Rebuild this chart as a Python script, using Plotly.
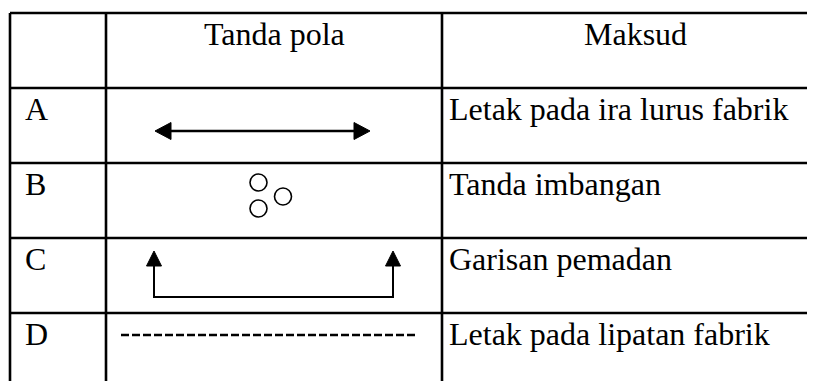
import plotly.graph_objects as go

# table content
headers = ["", "Tanda pola", "Maksud"]
row_labels = ["A", "B", "C", "D"]
meanings = [
    "Letak pada ira lurus fabrik",
    "Tanda imbangan",
    "Garisan pemadan",
    "Letak pada lipatan fabrik",
]

W, H = 815, 381
OFF = 8  # page body margin, compensated in axis ranges
col_x = [10, 106, 442]          # vertical rules
row_y = [13, 88, 163, 238, 313]  # horizontal rules
FONT = "Liberation Serif"
FS = 32

fig = go.Figure()
shapes = []
annots = []

# grid lines
for y in row_y:
    shapes.append(dict(type="line", x0=col_x[0], x1=W + OFF, y0=y, y1=y,
                       line=dict(color="black", width=2.6)))
for x in col_x:
    shapes.append(dict(type="line", x0=x, x1=x, y0=row_y[0], y1=H + OFF,
                       line=dict(color="black", width=2.6)))

# header text
annots.append(dict(x=(col_x[1] + col_x[2]) / 2, y=row_y[0] + 21, text=headers[1]))
annots.append(dict(x=635, y=row_y[0] + 21, text=headers[2]))

# row labels + meanings
for i, (lab, txt) in enumerate(zip(row_labels, meanings)):
    top = row_y[i + 1]
    annots.append(dict(x=23, y=top + 21, text=lab, xanchor="left"))
    annots.append(dict(x=447, y=top + 21, text=txt, xanchor="left"))

for a in annots:
    a.update(xref="x", yref="y", showarrow=False, yanchor="middle",
             font=dict(family=FONT, size=FS, color="black"))
    a.setdefault("xanchor", "center")

# A: double-headed arrow
ay, axl, axr, hl, hh = 131, 155, 370, 16, 8.5
shapes.append(dict(type="line", x0=axl + hl - 2, x1=axr - hl + 2, y0=ay, y1=ay,
                   line=dict(color="black", width=2.7)))
shapes.append(dict(type="path", path=f"M {axl} {ay} L {axl+hl} {ay-hh} L {axl+hl} {ay+hh} Z",
                   fillcolor="black", line=dict(color="black", width=1)))
shapes.append(dict(type="path", path=f"M {axr} {ay} L {axr-hl} {ay-hh} L {axr-hl} {ay+hh} Z",
                   fillcolor="black", line=dict(color="black", width=1)))

# B: three balance circles
r = 8.5
for cx, cy in [(258.5, 182.5), (283, 196.5), (258.5, 208.5)]:
    shapes.append(dict(type="circle", x0=cx - r, x1=cx + r, y0=cy - r, y1=cy + r,
                       line=dict(color="black", width=1.6)))

# C: grainline bracket with arrows
cl, cr, tip, base, bot, hw = 154, 393, 251, 266, 297, 7.5
shapes.append(dict(type="path", path=f"M {cl} {base} L {cl} {bot} L {cr} {bot} L {cr} {base}",
                   line=dict(color="black", width=2)))
for cx in (cl, cr):
    shapes.append(dict(type="path", path=f"M {cx} {tip} L {cx-hw} {base} L {cx+hw} {base} Z",
                       fillcolor="black", line=dict(color="black", width=1)))

# D: dashed fold line
shapes.append(dict(type="line", x0=121, x1=417, y0=335, y1=335,
                   line=dict(color="black", width=2.6, dash="8px,3px")))

for s in shapes:
    s.update(xref="x", yref="y")

fig.update_layout(
    width=W, height=H,
    margin=dict(l=0, r=0, t=0, b=0),
    paper_bgcolor="white", plot_bgcolor="white",
    xaxis=dict(range=[OFF, W + OFF], visible=False, fixedrange=True),
    yaxis=dict(range=[H + OFF, OFF], visible=False, fixedrange=True),
    shapes=shapes, annotations=annots, showlegend=False,
)
fig.write_html("out.html")
